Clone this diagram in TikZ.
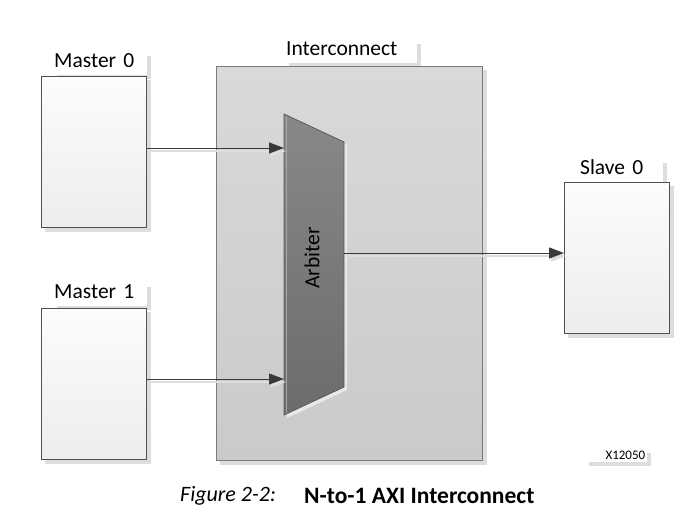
\documentclass[tikz,border=0pt]{standalone}
\usepackage{fontspec}
\setmainfont{Carlito}
\usetikzlibrary{arrows.meta,calc}
\definecolor{boxline}{HTML}{505050}
\definecolor{boxtop}{HTML}{FBFCFE}
\definecolor{boxbot}{HTML}{EDEDED}
\definecolor{shadowc}{HTML}{DDDDDD}
\definecolor{ictop}{HTML}{D9D9D9}
\definecolor{icbot}{HTML}{CACACA}
\definecolor{icline}{HTML}{7A7A7A}
\definecolor{arbtop}{HTML}{888888}
\definecolor{arbbot}{HTML}{6C6C6C}
\definecolor{arbline}{HTML}{5A5A5A}
\definecolor{arrowc}{HTML}{3A3A3A}
\pgfdeclarelayer{bg}
\pgfsetlayers{bg,main}
\tikzset{
  blockbox/.style={draw=boxline, line width=0.9pt, top color=boxtop, bottom color=boxbot,
    minimum width=105pt, minimum height=151pt, inner sep=0pt, anchor=north west},
  icbox/.style={draw=icline, line width=1pt, top color=ictop, bottom color=icbot,
    minimum width=266pt, minimum height=394pt, inner sep=0pt, anchor=north west},
  lblbox/.style={fill=white, anchor=north west, align=left, inner xsep=1pt, inner ysep=1pt,
    text height=14pt, text depth=7pt, minimum height=23pt},
  arr/.style={draw=arrowc, line width=1pt, -{Triangle[length=15pt,width=11pt]},
    preaction={draw=shadowc, line width=1.8pt, transform canvas={xshift=2pt,yshift=-3pt}}},
}
\begin{document}
\begin{tikzpicture}[x=1pt, y=-1pt, font=\fontsize{21.5}{25}\selectfont]
\useasboundingbox (0,0) rectangle (699,514);

% main blocks
\node[icbox] (ic) at (216,66) {};
\node[blockbox] (m0) at (41,76) {};
\node[blockbox] (m1) at (41,308) {};
\node[blockbox] (s0) at (564,182) {};

% labels
\node[lblbox, text width=92pt] (m0l) at (53,52) {Master 0};
\node[lblbox, text width=92pt] (m1l) at (53,283) {Master 1};
\node[lblbox, text width=130pt] (icl) at (285,40) {Interconnect};
\node[lblbox, text width=82pt] (s0l) at (579,159) {Slave 0};
\node[fill=white, anchor=north west, align=right, text width=58pt, inner xsep=2pt, inner ysep=0pt,
      minimum height=13pt, font=\fontsize{13}{15}\selectfont] (xl) at (585,449) {X12050};

% shadows
\begin{pgfonlayer}{bg}
  \foreach \n in {ic,m0,m1,s0,m0l,m1l,icl,s0l,xl}
    \fill[shadowc] ($(\n.north west)+(4,4)$) rectangle ($(\n.south east)+(4,4)$);
\end{pgfonlayer}

% arbiter
\coordinate (a1) at (284,114);
\coordinate (a2) at (344,142);
\coordinate (a3) at (344,387);
\coordinate (a4) at (284,415);
\fill[ictop!60!white] ($(a1)+(3,3)$) -- ($(a2)+(3,3)$) -- ($(a3)+(3,3)$) -- ($(a4)+(3,3)$) -- cycle;
\draw[arbline, line width=0.8pt, top color=arbtop, bottom color=arbbot] (a1) -- (a2) -- (a3) -- (a4) -- cycle;
\draw[arbtop!75!white, line width=1pt] ($(a1)+(2.5,2)$) -- ($(a4)+(2.5,-2)$);
\node[rotate=90, inner sep=0pt] (arb) at (312,258) {Arbiter};

% connection points
\coordinate (in0) at (284,148);
\coordinate (in1) at (284,379);
\coordinate (out) at (344,253);

% connectors
\draw[arr] (m0.east |- in0) -- (in0);
\draw[arr] (m1.east |- in1) -- (in1);
\draw[arr] (out) -- (s0.west |- out);

% caption
\node[anchor=west, inner sep=0pt, font=\fontsize{22}{26}\selectfont\itshape] (capfig) at (180,496) {Figure 2-2:};
\node[anchor=west, inner sep=0pt, font=\fontsize{23.5}{27}\selectfont\bfseries] (captitle) at (304,496) {N-to-1 AXI Interconnect};
\end{tikzpicture}
\end{document}
